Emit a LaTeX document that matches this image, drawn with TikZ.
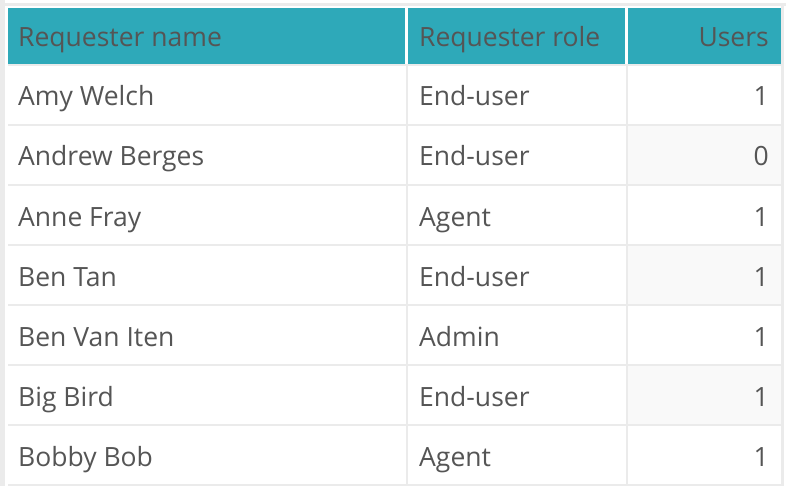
\documentclass[tikz,border=0pt]{standalone}
\usepackage{fontspec}
\setmainfont{Open Sans}
\definecolor{teal1}{HTML}{2EA9B9}
\definecolor{txt}{HTML}{555555}
\definecolor{grid}{HTML}{EBEBEB}
\definecolor{alt}{HTML}{F9F9F9}
\begin{document}
\begin{tikzpicture}[x=1pt,y=-1pt,
  cell/.style={font=\fontsize{26.5}{30}\selectfont,text=txt,inner sep=0pt},
  lc/.style={cell,anchor=base west},
  rc/.style={cell,anchor=base east}]
\useasboundingbox (0,0) rectangle (786,486);
\fill[white] (0,0) rectangle (786,486);
\fill[grid] (0,0) rectangle (5,486);
\fill[grid] (0,3) rectangle (786,6);
\fill[grid] (781,6) rectangle (784,486);
% header
\fill[teal1] (8,8) rectangle (405,64);
\fill[teal1] (408,8) rectangle (625,64);
\fill[teal1] (628,8) rectangle (781,64);
% alt rows in users column
\foreach \r in {1,3,5} \fill[alt] (628,65+60*\r) rectangle (781,125+60*\r);
% grid lines
\foreach \r in {0,...,7} \fill[grid] (8,64+60*\r) rectangle (781,66+60*\r);
\fill[grid] (406,66) rectangle (408,486);
\fill[grid] (626,66) rectangle (628,486);
\node[lc] (h1) at (18,47) {Requester name};
\node[lc] (h2) at (419,47) {Requester role};
\node[rc] (h3) at (769,47) {Users};
\foreach \n/\ro/\u [count=\i from 0] in {Amy Welch/End-user/1,Andrew Berges/End-user/0,Anne Fray/Agent/1,Ben Tan/End-user/1,Ben Van Iten/Admin/1,Big Bird/End-user/1,Bobby Bob/Agent/1}{
  \node[lc] (n\i) at (18,106+60*\i) {\n};
  \node[lc] (r\i) at (419,106+60*\i) {\ro};
  \node[rc] (u\i) at (769,106+60*\i) {\u};
}
\end{tikzpicture}
\end{document}
